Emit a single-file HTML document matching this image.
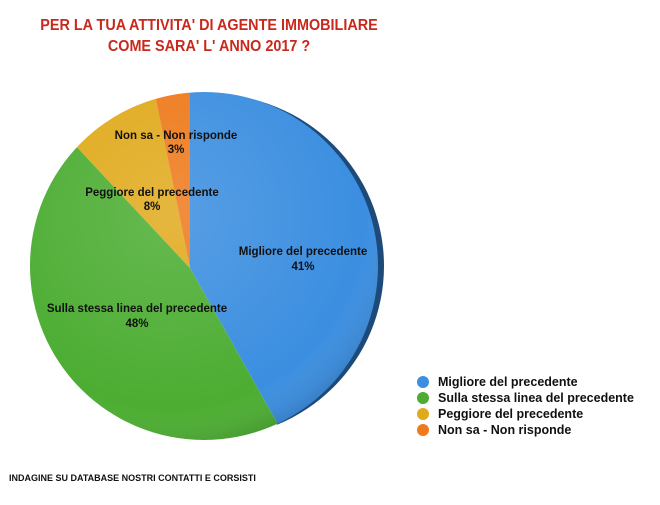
<!DOCTYPE html>
<html><head><meta charset="utf-8"><style>
html,body{margin:0;padding:0;background:#fff;width:660px;height:505px;overflow:hidden;font-family:"Liberation Sans",sans-serif}
svg{display:block}
</style></head><body>
<svg width="660" height="505" xmlns="http://www.w3.org/2000/svg" font-family="Liberation Sans, sans-serif">
<defs>
<clipPath id="c"><ellipse cx="204" cy="266" rx="174" ry="174"/></clipPath>
<clipPath id="r"><polygon points="250,80 400,80 400,440 278,440"/></clipPath>
<radialGradient id="sh" cx="0.4" cy="0.35" r="0.7">
<stop offset="0" stop-color="#fff" stop-opacity="0.15"/>
<stop offset="0.8" stop-color="#fff" stop-opacity="0"/>
<stop offset="1" stop-color="#000" stop-opacity="0.15"/>
</radialGradient>
</defs>
<g fill="#c9281c" font-weight="bold" font-size="16" text-anchor="middle">
<text x="0" y="30" transform="translate(209,0) scale(0.9,1)">PER LA TUA ATTIVITA' DI AGENTE IMMOBILIARE</text>
<text x="0" y="51" transform="translate(209,0) scale(0.9,1)">COME SARA' L' ANNO 2017 ?</text>
</g>
<ellipse cx="210" cy="266" rx="174" ry="172" fill="#1d4a78" clip-path="url(#r)"/>
<g clip-path="url(#c)">
<polygon points="190,268 190,-200 1000,-200 1000,1708" fill="#3b8ee0"/>
<polygon points="190,268 1000,1708 -800,1500 -800,-790" fill="#4cad32"/>
<polygon points="190,268 -800,-790 -300,-2000 155,95" fill="#e0aa1c"/>
<polygon points="190,268 155,95 150,-200 190,-200" fill="#ee7a1c"/>
<ellipse cx="204" cy="266" rx="174" ry="174" fill="url(#sh)"/>
</g>
<g font-size="11.5" fill="#111" text-anchor="middle" font-weight="bold">
<text x="176" y="139">Non sa - Non risponde</text><text x="176" y="153">3%</text>
<text x="152" y="196">Peggiore del precedente</text><text x="152" y="210">8%</text>
<text x="303" y="255">Migliore del precedente</text><text x="303" y="270">41%</text>
<text x="137" y="312">Sulla stessa linea del precedente</text><text x="137" y="327">48%</text>
</g>
<g font-size="12.5" fill="#111" font-weight="bold">
<circle cx="423" cy="382" r="6" fill="#3b8ee0"/><text x="438" y="386">Migliore del precedente</text>
<circle cx="423" cy="398" r="6" fill="#4cad32"/><text x="438" y="402">Sulla stessa linea del precedente</text>
<circle cx="423" cy="414" r="6" fill="#e0aa1c"/><text x="438" y="418">Peggiore del precedente</text>
<circle cx="423" cy="430" r="6" fill="#ee7a1c"/><text x="438" y="434">Non sa - Non risponde</text>
</g>
<text x="9" y="481" font-size="9" fill="#111" font-weight="bold">INDAGINE SU DATABASE NOSTRI CONTATTI E CORSISTI</text>
</svg>
</body></html>
